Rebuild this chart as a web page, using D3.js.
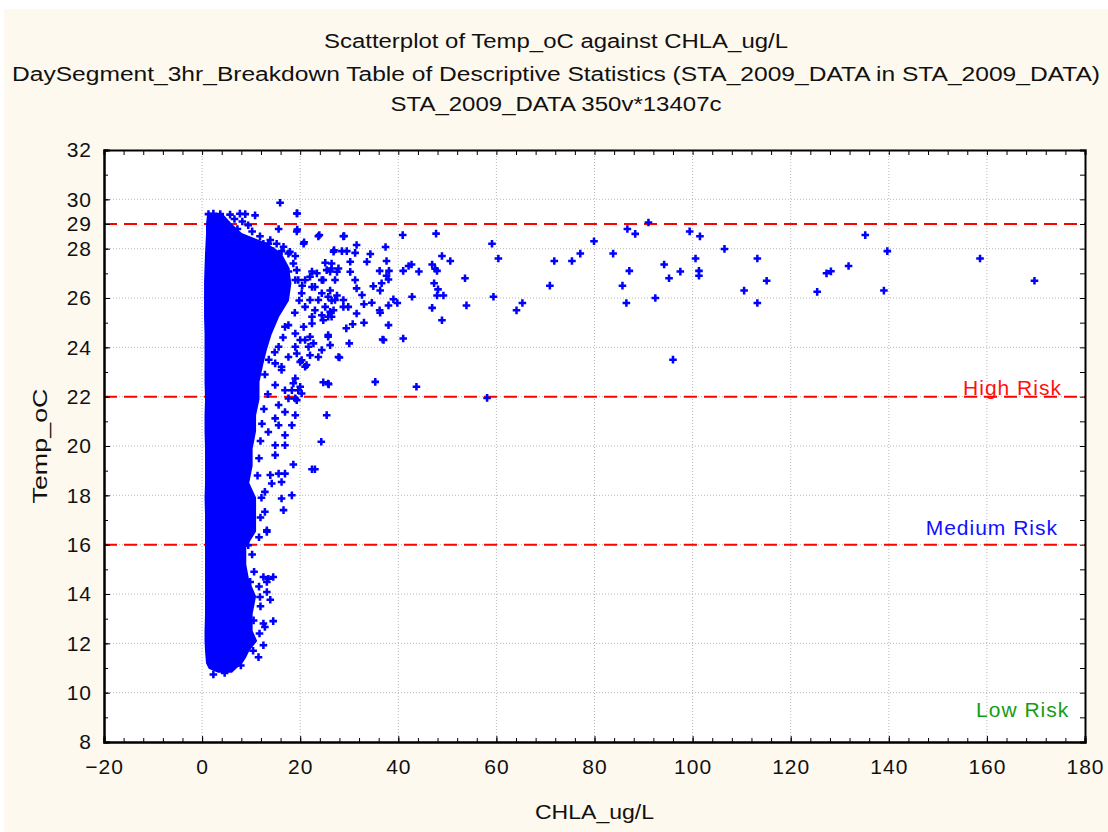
<!DOCTYPE html>
<html>
<head>
<meta charset="utf-8">
<script src="https://cdn.jsdelivr.net/npm/d3@7"></script>
<style>
  body { margin: 0; background: #ffffff; }
  svg text { font-family: "Liberation Sans", Arial, sans-serif; fill: #111; }
  .axis path, .axis line { stroke: #000; }
  .axis path { stroke-width: 2; }
  .axis text { font-size: 21px; letter-spacing: 1px; }
</style>
</head>
<body>
<div class="vis-scatter"></div>
<script>
// titles
var titleLines = [
    "Scatterplot of Temp_oC against CHLA_ug/L",
    "DaySegment_3hr_Breakdown Table of Descriptive Statistics (STA_2009_DATA in STA_2009_DATA)",
    "STA_2009_DATA 350v*13407c"
];
var xLabel = "CHLA_ug/L";
var yLabel = "Temp_oC";

// tick labels
var xTicks = [-20, 0, 20, 40, 60, 80, 100, 120, 140, 160, 180];
var yTicks = [8, 10, 12, 14, 16, 18, 20, 22, 24, 26, 28, 29, 30, 32];

// risk thresholds (dashed lines) and their labels
var riskLines = [29, 22, 16];
var riskLabels = ["High Risk", "Medium Risk", "Low Risk"];
var riskLabelTemp = [22, 16.3, 8.95];
var riskLabelChla = [175.3, 174.5, 176.8];
var riskColors = ["#ff1010", "#1010ff", "#169c16"];

// dense core of the cloud: temperature rows with left / right CHLA edge
var coreTemp = [10.85, 11.0, 11.2, 11.45, 11.7, 12.1, 12.5, 13.2, 13.9, 14.55, 15.2, 15.9, 16.55, 17.2, 17.9, 18.5,
    19.2, 19.9, 20.6, 21.25, 21.9, 22.6, 23.25, 23.9, 24.55, 25.25, 25.9, 26.6, 27.25, 27.8, 28.2, 28.6, 29.0, 29.35];
var coreLo = [3.3, 1.5, 1.0, 0.9, 0.8, 0.7, 0.7, 0.8, 0.8, 0.8, 0.8, 0.8, 0.8, 0.8, 0.7, 0.8,
    0.8, 0.8, 0.7, 0.7, 0.8, 0.7, 0.7, 0.7, 0.7, 0.6, 0.6, 0.6, 0.7, 0.8, 0.9, 1.0, 1.0, 1.2];
var coreHi = [6.0, 6.8, 8.0, 8.8, 9.4, 11.0, 10.1, 10.1, 10.8, 9.4, 8.8, 8.8, 10.8, 10.8, 10.8, 9.4,
    10.1, 10.1, 10.8, 10.8, 11.5, 11.5, 12.2, 13.0, 14.0, 15.5, 17.5, 18.0, 17.5, 16.0, 13.0, 8.0, 5.8, 4.2];

// individual points: [CHLA_ug/L, Temp_oC]
var points = [
    [37.4, 28.07], [40.9, 28.55], [47.7, 28.61], [37.6, 27.5], [38.1, 27.1], [37.6, 26.9], [38, 26.75], [36.6, 26.6],
    [39, 25.95], [39.8, 25.8], [38, 25.7], [36.3, 25.4], [38, 24.9], [37, 24.3], [41, 24.36], [41, 27.1], [42.1, 27.3],
    [42.7, 27.36], [44.2, 27.07], [42.8, 26.05], [46.9, 27.36], [47.5, 27.19], [47.9, 27.1], [47.3, 26.6], [48.1, 26.35],
    [47.9, 26.1], [49.2, 26.1], [46.9, 25.6], [48.9, 25.1], [48.9, 27.7], [50.6, 27.5], [53.6, 26.8], [53.9, 25.7],
    [43.7, 22.4], [58.1, 21.95], [59.1, 28.2], [60.4, 27.6], [59.4, 26.05], [64.1, 25.5], [65.3, 25.8], [70.9, 26.5],
    [71.8, 27.5], [75.4, 27.5], [77.1, 27.8], [79.9, 28.3], [83.8, 27.8], [85.7, 26.5], [86.5, 25.8], [87.1, 27.1],
    [86.7, 28.8], [88.3, 28.6], [91.0, 29.06], [92.4, 26.0], [94.2, 27.36], [95.2, 26.8], [97.5, 27.07], [96.0, 23.5],
    [99.4, 28.7], [101.5, 28.5], [100.6, 27.6], [101.3, 27.1], [101.3, 26.9], [106.5, 27.99], [110.5, 26.3],
    [113.2, 27.6], [113.2, 25.8], [115.1, 26.7], [125.4, 26.25], [127.3, 27.0], [128.2, 27.08], [131.8, 27.3],
    [135.2, 28.55], [139, 26.3], [139.7, 27.9], [158.6, 27.6], [169.7, 26.7],
    [19.4, 29.43], [19.4, 28.78], [20.8, 28.26], [23.9, 28.55], [28.95, 28.51], [31.5, 28.15], [26.9, 27.94],
    [29.5, 27.9], [31.2, 27.83], [34.3, 27.78], [33.6, 27.47], [36.2, 27.1], [34.9, 26.48], [36.3, 26.3], [34.6, 25.81],
    [33.0, 25.75], [36.2, 25.5], [33.0, 25.0], [30.7, 24.94], [29.4, 24.77], [36.8, 24.32], [30.0, 24.16], [28.0, 23.59],
    [35.3, 22.6], [24.7, 22.58], [25.8, 22.5], [26.4, 25.9], [28.8, 25.64], [26.1, 25.44], [22.0, 26.86], [23.4, 27.0],
    [24.7, 26.73], [25.4, 27.13], [26.4, 27.2], [27.5, 27.06], [23.0, 26.45], [24.4, 26.19], [26.1, 26.3], [27.5, 26.1],
    [30.2, 27.47], [30.2, 27.06], [31.2, 26.73], [31.5, 26.39], [32.6, 26.12], [28.8, 25.92], [29.8, 25.64],
    [31.5, 25.37], [26.8, 25.5], [26.4, 25.24], [24.7, 25.1], [22.4, 24.97], [20.7, 24.83], [22.0, 24.43], [20.0, 24.3],
    [25.7, 24.43], [26.1, 24.09], [24.4, 23.89], [22.0, 23.68], [21.7, 24.02], [19.3, 23.75], [21.3, 23.28],
    [20.0, 23.41], [18.6, 22.54], [20.0, 22.4], [19.3, 21.86], [20.3, 22.13],
    [15.9, 29.86], [19.3, 29.43], [1.3, 29.4], [2.3, 29.42], [3.7, 29.4], [5.7, 29.38], [7.7, 29.42], [8.8, 29.4],
    [10.8, 29.35], [5.4, 28.95], [9.4, 28.95], [15.6, 28.8], [19.3, 28.7], [23.7, 28.5], [28.8, 28.5], [20.7, 28.2],
    [26.8, 27.88], [28.5, 27.9], [12.4, 28.0], [13.5, 28.2], [14.5, 27.9], [16.2, 27.9], [17.6, 27.8], [19.0, 27.7],
    [25.1, 27.43], [26.4, 27.4], [27.8, 27.2], [26.1, 27.07], [27.1, 26.73], [24.4, 26.73], [22.4, 27.07], [21.0, 26.73],
    [22.4, 26.45], [19.0, 26.73], [17.6, 27.07], [16.2, 27.0], [20.3, 26.19], [22.0, 25.92], [23.7, 25.92],
    [25.7, 26.05], [27.1, 25.92], [25.1, 25.64], [23.0, 25.5], [21.0, 25.64], [25.7, 25.24], [24.4, 25.3],
    [22.4, 25.24], [16.9, 24.83], [19.0, 24.56], [21.0, 24.3], [22.7, 24.16], [25.7, 24.5], [27.8, 23.61],
    [23.7, 23.61], [19.0, 24.02], [15.6, 24.02], [17.6, 23.61], [20.3, 23.48], [14.9, 23.35], [16.2, 23.21],
    [16.2, 23.08], [19.0, 22.74], [21.0, 23.21], [25.7, 22.53], [14.9, 22.47], [16.9, 22.26], [18.3, 22.26],
    [19.6, 22.26], [17.6, 21.93], [15.6, 21.66], [19.0, 21.93], [25.4, 21.25], [16.9, 21.38], [19.0, 21.25],
    [14.9, 21.12], [18.3, 20.84], [15.6, 20.84], [13.5, 20.57], [16.9, 20.44], [24.3, 20.17], [14.9, 20.03],
    [16.9, 20.03], [14.9, 19.63], [18.6, 19.25], [22.4, 19.06], [23.0, 19.06], [13.9, 18.82], [15.6, 18.88],
    [16.9, 18.88], [16.2, 18.54], [14.2, 18.48], [12.8, 18.14], [16.2, 17.87], [18.3, 18.0], [16.6, 17.4],
    [12.8, 17.33], [13.2, 16.58], [13.2, 16.52], [8.8, 16.18], [9.4, 15.98], [12.5, 14.69], [13.5, 14.62],
    [14.5, 14.69], [13.2, 14.49], [9.8, 14.49], [9.1, 14.15], [13.2, 14.08], [11.8, 13.88], [13.9, 13.77],
    [14.5, 12.9], [12.5, 12.8], [12.8, 12.66], [10.5, 12.93], [12.5, 11.92], [11.5, 11.44], [2.3, 10.74],
    [11.1, 28.08], [12.5, 28.2], [13.9, 28.35], [15.2, 28.2], [16.6, 28.08], [17.9, 27.87], [18.6, 27.4],
    [19.3, 27.13], [19.6, 26.73], [20.4, 26.5], [19.8, 25.9], [18.9, 25.4], [17.6, 24.9], [16.5, 24.4],
    [14.8, 23.8], [13.6, 23.5], [12.8, 22.9], [13.4, 22.1], [12.6, 21.5], [12.2, 20.9], [11.9, 20.2],
    [11.6, 19.5], [11.3, 18.8], [12.1, 17.9], [11.9, 17.1], [11.6, 16.3], [10.2, 15.6], [10.6, 14.9],
    [11.6, 14.3], [11.9, 13.5], [11.7, 12.4], [10.4, 11.7], [7.9, 11.1], [4.6, 10.8],
    [6.6, 29.2], [8.2, 29.1], [10.2, 28.7], [11.8, 28.5], [7.2, 28.8]
];

var width = 1108,
    height = 832,
    plotLeft = 104,
    plotRight = 1085,
    plotTop = 150,
    plotBottom = 742;

var svg = d3.select(".vis-scatter")
    .append("svg")
    .attr("width", width)
    .attr("height", height);

// cream panel behind everything
svg.append("rect")
    .attr("x", 4).attr("y", 9)
    .attr("width", width - 4).attr("height", height - 9)
    .attr("fill", "#fef9ee");

svg.append("rect")
    .attr("x", plotLeft).attr("y", plotTop)
    .attr("width", plotRight - plotLeft).attr("height", plotBottom - plotTop)
    .attr("fill", "#ffffff");

var x = d3.scaleLinear().domain([-20, 180]).range([plotLeft, plotRight]);
var y = d3.scaleLinear().domain([8, 32]).range([plotBottom, plotTop]);

// dotted grid
svg.append("g")
    .selectAll("line")
    .data(xTicks.slice(1, -1))
    .enter().append("line")
    .attr("x1", d => x(d)).attr("x2", d => x(d))
    .attr("y1", plotTop).attr("y2", plotBottom)
    .attr("stroke", "#b8b8b8")
    .attr("stroke-dasharray", "1,2");

svg.append("g")
    .selectAll("line")
    .data(yTicks.filter(d => d > 8 && d < 32 && d !== 29))
    .enter().append("line")
    .attr("x1", plotLeft).attr("x2", plotRight)
    .attr("y1", d => y(d)).attr("y2", d => y(d))
    .attr("stroke", "#b8b8b8")
    .attr("stroke-dasharray", "1,2");

// risk threshold lines
svg.append("g")
    .selectAll("line")
    .data(riskLines)
    .enter().append("line")
    .attr("x1", plotLeft).attr("x2", plotRight)
    .attr("y1", d => y(d)).attr("y2", d => y(d))
    .attr("stroke", "#ff0000")
    .attr("stroke-width", 2)
    .attr("stroke-dasharray", "13,7");

// dense core
var core = coreTemp.map((t, i) => ({ t: t, lo: coreLo[i], hi: coreHi[i] }));
svg.append("path")
    .datum(core)
    .attr("fill", "#0000ff")
    .attr("stroke", "#0000ff")
    .attr("stroke-width", 2)
    .attr("d", d3.area()
        .y(d => y(d.t))
        .x0(d => x(d.lo))
        .x1(d => x(d.hi)));

// single points
var marker = d3.symbol().type(d3.symbolCross).size(32);
svg.append("g")
    .selectAll("path")
    .data(points)
    .enter().append("path")
    .attr("transform", d => "translate(" + x(d[0]) + "," + y(d[1]) + ")")
    .attr("d", marker)
    .attr("fill", "#0000ff");

// risk labels
svg.append("g")
    .selectAll("text")
    .data(riskLabels)
    .enter().append("text")
    .attr("x", (d, i) => x(riskLabelChla[i]))
    .attr("y", (d, i) => y(riskLabelTemp[i]) - 2)
    .attr("text-anchor", "end")
    .attr("font-size", 21)
    .attr("letter-spacing", 1)
    .style("fill", (d, i) => riskColors[i])
    .text(d => d);

// axes
var minorX = d3.range(-20, 181, 4);
var minorY = d3.range(8, 33, 1);

svg.append("g")
    .attr("class", "axis")
    .attr("transform", "translate(0," + plotBottom + ")")
    .call(d3.axisBottom(x).tickValues(xTicks).tickSize(-6).tickPadding(14))
    .call(g => g.selectAll(".tick text").attr("dy", "0.85em"));

svg.append("g")
    .attr("class", "axis")
    .attr("transform", "translate(0," + plotBottom + ")")
    .call(d3.axisBottom(x).tickValues(minorX).tickSize(-4).tickFormat(""));

svg.append("g")
    .attr("class", "axis")
    .attr("transform", "translate(" + plotLeft + ",0)")
    .call(d3.axisLeft(y).tickValues(yTicks).tickSize(-6).tickPadding(12));

svg.append("g")
    .attr("class", "axis")
    .attr("transform", "translate(" + plotLeft + ",0)")
    .call(d3.axisLeft(y).tickValues(minorY).tickSize(-4).tickFormat(""));

svg.append("g")
    .attr("class", "axis")
    .attr("transform", "translate(0," + plotTop + ")")
    .call(d3.axisTop(x).tickValues(minorX).tickSize(-5).tickFormat(""));

svg.append("g")
    .attr("class", "axis")
    .attr("transform", "translate(" + plotRight + ",0)")
    .call(d3.axisRight(y).tickValues(minorY).tickSize(-5).tickFormat(""));

// titles
var titleY = [48, 81, 111];
var titleLen = [464, 1088, 331];
svg.append("g")
    .selectAll("text")
    .data(titleLines)
    .enter().append("text")
    .attr("x", 556)
    .attr("y", (d, i) => titleY[i])
    .attr("text-anchor", "middle")
    .attr("font-size", 20)
    .attr("textLength", (d, i) => titleLen[i])
    .attr("lengthAdjust", "spacingAndGlyphs")
    .text(d => d);

svg.append("text")
    .attr("x", (plotLeft + plotRight) / 2)
    .attr("y", 819)
    .attr("text-anchor", "middle")
    .attr("font-size", 21)
    .attr("textLength", 119)
    .attr("lengthAdjust", "spacingAndGlyphs")
    .text(xLabel);

svg.append("text")
    .attr("transform", "translate(47," + ((plotTop + plotBottom) / 2) + ") rotate(-90)")
    .attr("text-anchor", "middle")
    .attr("font-size", 21)
    .attr("textLength", 115)
    .attr("lengthAdjust", "spacingAndGlyphs")
    .text(yLabel);
</script>
</body>
</html>
